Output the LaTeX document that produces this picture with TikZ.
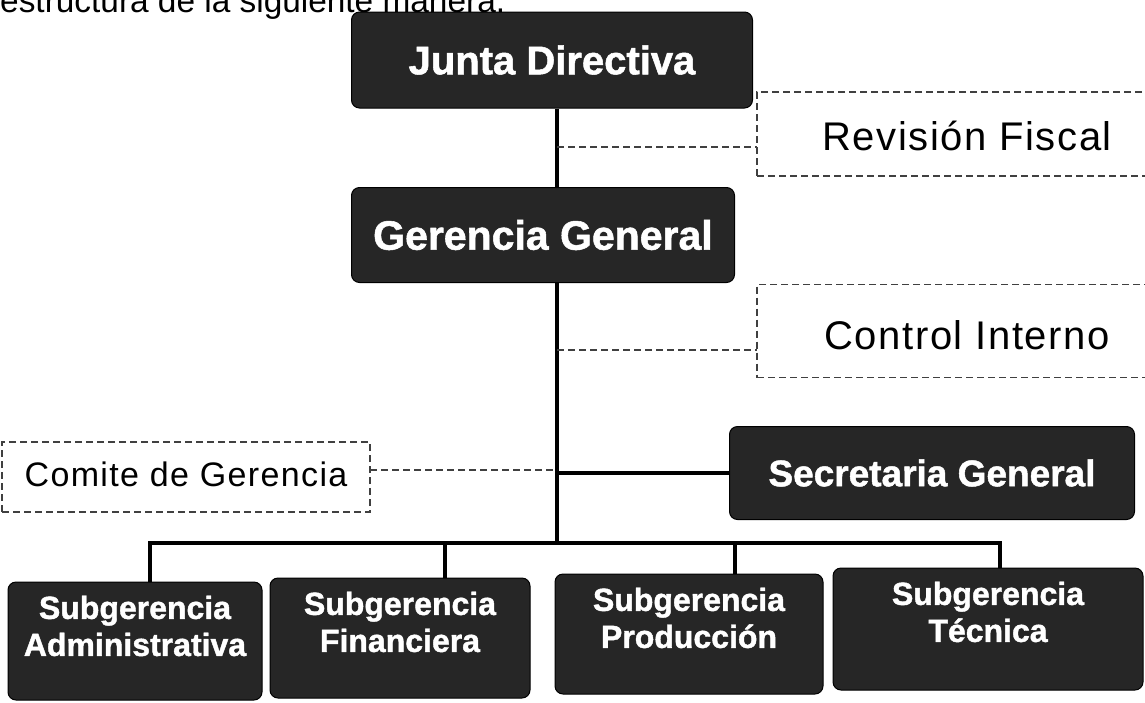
\documentclass[tikz,border=0pt]{standalone}
\usepackage{fontspec}
\setmainfont{Liberation Sans}
\newfontfamily\heavyfont{Liberation Sans}[BoldFont={Liberation Sans Bold}, BoldFeatures={FakeBold=1.3}]
\newfontfamily\spacedfont{Liberation Sans}[LetterSpace=4]
\newcommand\movetext[2]{\raisebox{#1}[\height][\depth]{\begin{tabular}{@{}c@{}}#2\end{tabular}}}
\begin{document}
\begin{tikzpicture}[x=1pt,y=-1pt,
  darkbox/.style={draw=black, line width=1pt, fill=black!85, rounded corners=8pt, text=white,
    font=\heavyfont\bfseries\fontsize{40}{44}\selectfont, inner sep=0pt, align=center},
  subbox/.style={darkbox, font=\heavyfont\bfseries\fontsize{32}{37}\selectfont},
  dashbox/.style={draw=black!75, line width=1.3pt, dash pattern=on 7pt off 4pt, inner sep=0pt,
    font=\spacedfont\fontsize{40}{44}\selectfont},
  link/.style={line width=4pt},
  dlink/.style={draw=black!75, line width=1.3pt, dash pattern=on 7pt off 4pt}]
\clip (0,0) rectangle (1145,702);
\fill[white] (0,0) rectangle (1145,702);

\node[anchor=base west, font=\fontsize{33.4}{36}\selectfont, inner sep=0pt] (intro) at (0,12) {estructura de la siguiente manera.};

\node[darkbox, minimum width=401, minimum height=96] (junta) at (552,60) {Junta Directiva};
\node[darkbox, font=\heavyfont\bfseries\fontsize{41}{44}\selectfont, minimum width=383, minimum height=95] (gerencia) at (543,235) {Gerencia General};
\node[darkbox, font=\heavyfont\bfseries\fontsize{37}{40}\selectfont, minimum width=405, minimum height=93] (secretaria) at (932,473) {Secretaria General};

\node[dashbox, minimum width=420, minimum height=84] (revision) at (967,134) {\movetext{-8pt}{Revisión Fiscal}};
\node[dashbox, minimum width=420, minimum height=93] (control) at (967,331) {\movetext{-10pt}{Control Interno}};
\node[dashbox, font=\spacedfont\fontsize{34}{38}\selectfont, minimum width=368, minimum height=70] (comite) at (186,477) {\movetext{-2pt}{Comite de Gerencia}};

\node[subbox, minimum width=254, minimum height=118] (sadm) at (135,641) {\movetext{11pt}{Subgerencia\\Administrativa}};
\node[subbox, minimum width=260, minimum height=120] (sfin) at (400,638) {\movetext{12pt}{Subgerencia\\Financiera}};
\node[subbox, minimum width=268, minimum height=120] (sprod) at (689,634) {\movetext{12pt}{Subgerencia\\Producción}};
\node[subbox, minimum width=310, minimum height=122] (stec) at (988,629) {\movetext{13pt}{Subgerencia\\Técnica}};

\coordinate (spine) at (557,0);
\coordinate (revtap) at (757,147);
\coordinate (ctltap) at (757,350);
\coordinate (comtap) at (370,470);
\coordinate (bar) at (0,543);
\coordinate (d1) at (150,543);
\coordinate (d2) at (445,543);
\coordinate (d3) at (735,543);
\coordinate (d4) at (1000,543);

\draw[link] (junta.south -| spine) -- (gerencia.north -| spine);
\draw[link] (gerencia.south -| spine) -- (bar -| spine);
\draw[dlink] (spine |- revtap) -- (revtap);
\draw[dlink] (spine |- ctltap) -- (ctltap);
\draw[dlink] (comtap) -- (spine |- comtap);
\draw[link] (spine |- secretaria.west) -- (secretaria.west);
\draw[link] ([xshift=-2pt]d1) -- ([xshift=2pt]d4);
\draw[link] (d1) -- (d1 |- sadm.north);
\draw[link] (d2) -- (d2 |- sfin.north);
\draw[link] (d3) -- (d3 |- sprod.north);
\draw[link] (d4) -- (d4 |- stec.north);
\end{tikzpicture}
\end{document}
